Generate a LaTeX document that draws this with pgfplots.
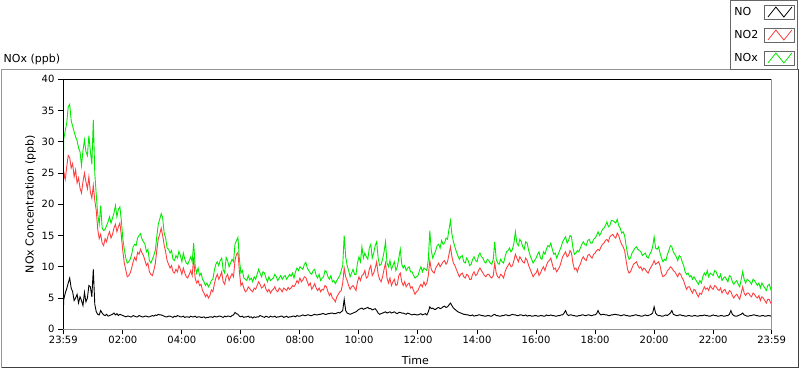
\documentclass[border=0pt]{standalone}
\usepackage{fontspec}
\setmainfont{DejaVu Sans}
\usepackage{pgfplots}
\pgfplotsset{compat=1.18}
\usepackage{pgfplotstable}
\definecolor{noxgreen}{RGB}{0,235,0}
\definecolor{no2red}{RGB}{255,64,64}
\definecolor{framegray}{RGB}{150,150,150}

\pgfplotstableread{
t NO NO2 NOx
-0.0167 3.0 22.8 26.5
0.0 4.8 25.2 30.5
0.05 5.8 24.0 31.8
0.1 6.5 26.0 33.0
0.15 7.4 27.8 35.6
0.2 8.2 27.5 36.0
0.25 6.6 25.8 33.4
0.3 6.0 26.5 32.5
0.35 4.6 24.4 31.6
0.4 5.0 25.5 30.8
0.45 5.6 23.4 30.2
0.5 4.2 24.2 29.0
0.55 5.2 22.6 28.4
0.6 4.6 21.8 26.2
0.65 3.8 23.6 28.6
0.7 5.9 25.0 30.3
0.75 4.4 23.6 28.4
0.8 5.0 22.5 27.8
0.85 7.0 24.4 31.0
0.9 6.8 22.0 28.5
0.95 5.2 21.0 26.4
1.0 9.6 23.0 33.5
1.05 4.0 20.6 25.0
1.1 2.8 19.0 21.5
1.15 2.4 16.0 18.4
1.2 2.3 14.5 16.8
1.25 3.0 15.2 19.8
1.3 2.6 13.8 16.2
1.35 2.3 13.4 15.8
1.4 2.2 14.5 16.0
1.45 2.4 14.0 16.6
1.5 2.1 15.0 17.2
1.55 2.2 15.6 18.0
1.6 2.3 14.6 17.0
1.65 2.4 15.2 17.8
1.7 2.6 16.2 18.6
1.75 2.3 16.8 19.8
1.8 2.5 15.6 18.0
1.85 2.2 16.4 19.2
1.9 2.4 17.0 19.6
1.95 2.3 15.0 17.4
2.0 2.2 12.5 14.5
2.05 2.1 10.6 12.8
2.1 2.0 9.5 11.4
2.15 2.1 8.4 10.6
2.2 2.1 8.6 10.8
2.25 2.0 9.0 11.2
2.3 2.0 9.8 12.0
2.35 2.2 10.8 13.2
2.4 2.1 11.5 13.6
2.45 2.0 11.0 13.4
2.5 2.0 12.3 14.6
2.55 2.2 12.0 15.0
2.6 2.1 12.8 15.3
2.65 2.0 12.2 14.4
2.7 2.0 11.8 14.0
2.75 2.1 11.0 13.6
2.8 2.1 10.2 12.4
2.85 2.0 10.6 12.8
2.9 2.0 9.2 11.0
2.95 2.1 8.8 10.6
3.0 2.2 8.6 11.2
3.05 2.1 9.4 11.8
3.1 2.3 10.5 12.6
3.15 2.2 12.6 14.8
3.2 2.4 14.5 16.8
3.25 2.3 15.2 17.6
3.3 2.3 16.2 18.5
3.35 2.2 15.0 17.8
3.4 2.1 13.5 15.4
3.45 2.0 12.4 14.6
3.5 2.0 11.0 13.0
3.55 2.1 10.4 12.8
3.6 2.1 9.8 12.2
3.65 2.0 10.2 12.6
3.7 1.9 9.2 11.2
3.75 2.1 9.0 11.0
3.8 2.0 9.6 11.8
3.85 2.2 9.2 11.4
3.9 2.1 10.2 12.5
3.95 2.0 9.6 11.8
4.0 2.0 8.8 10.8
4.05 2.1 9.8 12.2
4.1 1.9 9.0 11.2
4.15 2.0 8.4 10.6
4.2 2.0 8.2 10.4
4.25 1.9 8.8 11.0
4.3 2.1 9.4 11.6
4.35 2.0 8.6 10.8
4.4 2.0 11.5 13.8
4.45 2.1 8.2 10.2
4.5 1.9 7.4 9.0
4.55 2.0 7.8 9.8
4.6 2.0 7.0 8.6
4.65 1.9 7.2 9.0
4.7 1.9 6.2 8.0
4.75 2.0 5.8 7.6
4.8 1.8 5.2 7.0
4.85 1.9 5.6 7.4
4.9 1.9 5.0 6.8
4.95 2.0 5.4 7.2
5.0 2.0 6.3 7.8
5.05 1.9 6.0 8.0
5.1 2.1 7.2 9.4
5.15 2.0 8.2 10.4
5.2 2.0 8.8 10.8
5.25 2.1 8.0 10.2
5.3 2.1 8.5 11.0
5.35 2.0 9.2 11.4
5.4 1.9 7.6 9.5
5.45 2.1 7.2 9.0
5.5 2.0 8.4 11.5
5.55 2.1 8.8 11.0
5.6 2.1 7.8 10.0
5.65 2.0 8.4 10.6
5.7 2.2 8.9 11.2
5.75 2.3 8.4 10.8
5.8 2.7 11.0 13.6
5.85 2.5 12.0 14.2
5.9 2.4 12.3 14.7
5.95 2.1 9.2 11.2
6.0 2.0 7.0 9.0
6.05 2.1 7.4 9.4
6.1 1.9 6.6 8.2
6.15 2.0 6.0 8.0
6.2 2.0 6.2 7.8
6.25 2.1 6.8 8.6
6.3 1.9 6.5 7.9
6.35 2.0 6.2 8.2
6.4 1.8 6.0 7.6
6.45 2.0 6.6 8.4
6.5 1.9 6.4 8.0
6.55 2.0 7.0 8.8
6.6 2.0 7.6 9.6
6.65 2.2 7.2 9.0
6.7 2.1 6.6 8.4
6.75 2.0 6.8 9.2
6.8 1.9 7.2 9.0
6.85 2.1 6.4 8.2
6.9 2.0 6.0 7.6
6.95 1.9 6.4 8.4
7.0 2.1 5.8 7.8
7.05 2.0 6.2 8.0
7.1 2.0 6.4 8.2
7.15 2.1 6.8 8.8
7.2 1.9 6.2 8.4
7.25 2.0 6.0 7.8
7.3 2.0 6.6 8.2
7.35 2.1 6.4 8.6
7.4 2.1 6.0 8.0
7.45 1.9 6.6 8.4
7.5 2.0 6.4 8.6
7.55 2.1 6.2 8.0
7.6 1.9 6.7 8.4
7.65 2.0 6.4 8.8
7.7 2.0 6.6 8.5
7.75 2.1 7.0 9.0
7.8 2.1 6.8 8.2
7.85 2.0 7.2 9.2
7.9 2.2 7.8 9.8
7.95 2.1 7.4 9.4
8.0 2.1 8.2 10.0
8.05 2.2 7.6 9.8
8.1 2.3 7.9 9.6
8.15 2.2 8.4 10.4
8.2 2.2 8.3 10.7
8.25 2.3 7.6 9.8
8.3 2.3 7.0 9.4
8.35 2.2 7.4 9.0
8.4 2.2 6.4 8.8
8.45 2.3 6.8 9.4
8.5 2.4 7.3 9.6
8.55 2.3 6.6 8.6
8.6 2.3 6.2 8.2
8.65 2.4 6.6 8.8
8.7 2.4 6.0 7.8
8.75 2.5 6.4 8.2
8.8 2.5 6.3 8.4
8.85 2.4 7.0 9.4
8.9 2.4 6.8 9.2
8.95 2.5 6.0 8.4
9.0 2.5 5.4 8.0
9.05 2.6 5.8 8.6
9.1 2.6 5.0 7.6
9.15 2.5 4.8 7.8
9.2 2.5 4.4 7.3
9.25 2.6 5.2 7.8
9.3 2.7 5.6 8.2
9.35 2.6 6.0 8.6
9.4 2.8 6.2 9.4
9.45 3.0 7.4 10.2
9.5 4.8 9.8 15.0
9.55 3.0 8.4 11.6
9.6 2.6 7.8 10.2
9.65 2.5 7.0 9.4
9.7 2.4 6.4 8.4
9.75 2.5 6.8 9.0
9.8 2.6 7.0 9.6
9.85 2.7 6.6 8.8
9.9 2.8 6.2 8.8
9.95 3.0 7.6 10.6
10.0 3.2 8.4 11.6
10.05 3.3 7.8 10.8
10.1 3.4 8.6 13.2
10.15 3.2 8.8 11.4
10.2 3.3 9.4 12.2
10.25 3.4 8.2 11.6
10.3 3.5 8.4 11.2
10.35 3.3 9.6 13.0
10.4 3.3 10.2 13.6
10.45 3.1 8.6 11.4
10.5 3.2 9.0 12.2
10.55 3.3 9.8 13.4
10.6 3.0 10.8 14.0
10.65 2.6 8.8 11.4
10.7 2.4 8.0 10.2
10.75 2.5 7.6 10.4
10.8 2.6 8.4 11.2
10.85 2.7 9.6 12.4
10.9 2.8 10.6 14.0
10.95 2.6 8.2 10.6
11.0 2.7 7.4 10.0
11.05 2.8 8.2 11.0
11.1 2.6 7.0 9.6
11.15 2.7 7.6 10.2
11.2 2.8 8.0 10.8
11.25 2.6 7.0 9.4
11.3 2.5 7.2 10.0
11.35 2.7 8.6 11.4
11.4 2.7 9.0 12.8
11.45 2.6 7.6 10.4
11.5 2.6 7.0 9.8
11.55 2.5 7.6 10.2
11.6 2.4 6.8 9.4
11.65 2.6 7.2 9.8
11.7 2.5 7.4 10.0
11.75 2.4 6.6 9.2
11.8 2.3 6.8 9.2
11.85 2.4 6.2 8.6
11.9 2.4 5.6 8.2
11.95 2.3 6.0 8.4
12.0 2.3 6.2 8.6
12.05 2.4 6.8 9.4
12.1 2.5 7.2 10.0
12.15 2.3 6.8 9.2
12.2 2.4 7.6 9.8
12.25 2.5 7.0 9.6
12.3 2.3 7.4 9.4
12.35 2.8 8.6 11.2
12.4 3.6 11.0 15.8
12.45 3.3 9.6 12.6
12.5 3.4 9.2 11.4
12.55 3.2 9.0 12.0
12.6 3.2 9.8 12.6
12.65 3.4 10.2 13.4
12.7 3.5 10.6 13.6
12.75 3.3 10.0 13.0
12.8 3.4 10.4 14.2
12.85 3.6 10.8 13.6
12.9 3.7 11.0 13.8
12.95 3.5 10.4 14.6
13.0 3.6 10.8 14.4
13.05 3.9 12.0 16.0
13.1 4.2 13.2 17.4
13.15 3.8 11.6 15.2
13.2 3.4 10.6 14.0
13.25 3.2 10.2 13.2
13.3 3.0 9.6 12.4
13.35 2.8 9.0 11.8
13.4 2.7 8.4 11.2
13.45 2.6 8.8 11.6
13.5 2.5 9.0 11.8
13.55 2.4 8.4 10.8
13.6 2.4 8.2 10.6
13.65 2.3 8.8 11.4
13.7 2.3 8.6 11.0
13.75 2.2 8.0 10.2
13.8 2.2 8.0 10.4
13.85 2.3 8.8 11.2
13.9 2.1 9.2 11.6
13.95 2.2 8.6 11.0
14.0 2.2 8.8 10.8
14.05 2.3 9.4 11.8
14.1 2.3 9.8 12.2
14.15 2.2 9.4 11.6
14.2 2.2 9.0 11.4
14.25 2.1 8.6 10.8
14.3 2.1 8.4 10.6
14.35 2.2 8.8 11.2
14.4 2.2 8.8 11.0
14.45 2.1 8.4 10.6
14.5 2.1 8.2 10.4
14.55 2.3 8.6 11.2
14.6 2.4 10.6 14.0
14.65 2.2 9.0 11.2
14.7 2.2 8.4 10.6
14.75 2.1 8.2 10.4
14.8 2.1 8.8 11.2
14.85 2.2 8.6 10.8
14.9 2.2 8.2 10.6
14.95 2.3 9.2 11.6
15.0 2.3 9.8 12.4
15.05 2.2 10.2 12.6
15.1 2.2 10.6 13.0
15.15 2.3 10.0 12.4
15.2 2.4 10.2 12.8
15.25 2.3 11.0 13.8
15.3 2.3 12.0 15.6
15.35 2.2 11.4 13.8
15.4 2.2 10.8 13.4
15.45 2.3 11.6 14.4
15.5 2.3 11.2 14.0
15.55 2.2 10.8 13.2
15.6 2.2 10.6 12.8
15.65 2.3 11.4 14.0
15.7 2.1 11.0 13.8
15.75 2.2 10.2 12.6
15.8 2.2 9.6 11.8
15.85 2.1 9.0 11.2
15.9 2.1 8.4 10.6
15.95 2.2 8.8 11.0
16.0 2.2 9.0 11.4
16.05 2.1 9.6 12.0
16.1 2.1 8.6 12.4
16.15 2.2 9.0 11.4
16.2 2.2 9.6 11.2
16.25 2.1 10.0 12.4
16.3 2.1 9.4 12.0
16.35 2.3 10.2 12.8
16.4 2.2 10.8 13.4
16.45 2.2 11.0 13.2
16.5 2.3 11.4 13.8
16.55 2.2 10.4 12.8
16.6 2.2 9.6 12.0
16.65 2.1 9.8 12.2
16.7 2.1 9.2 11.4
16.75 2.2 9.6 12.0
16.8 2.2 10.0 12.6
16.85 2.3 10.8 13.2
16.9 2.3 11.6 14.0
16.95 2.6 12.0 14.4
17.0 3.0 12.4 14.8
17.05 2.4 11.6 13.8
17.1 2.2 11.8 14.2
17.15 2.3 12.6 15.0
17.2 2.3 12.2 14.8
17.25 2.2 10.6 13.0
17.3 2.2 9.6 12.0
17.35 2.1 9.8 12.2
17.4 2.1 9.2 12.6
17.45 2.2 10.0 12.4
17.5 2.2 10.4 13.0
17.55 2.3 11.2 13.6
17.6 2.3 11.6 14.0
17.65 2.2 11.2 13.6
17.7 2.2 11.0 13.4
17.75 2.3 11.8 14.2
17.8 2.3 12.0 14.4
17.85 2.2 11.6 13.8
17.9 2.2 11.4 13.8
17.95 2.3 12.0 14.4
18.0 2.3 12.2 14.6
18.05 2.5 12.6 15.0
18.1 3.0 12.8 15.6
18.15 2.5 12.6 15.0
18.2 2.3 13.2 15.4
18.25 2.4 13.6 16.0
18.3 2.4 13.8 16.2
18.35 2.3 14.2 16.6
18.4 2.3 14.4 17.2
18.45 2.2 14.0 16.4
18.5 2.2 14.8 16.6
18.55 2.3 15.0 17.4
18.6 2.3 15.2 17.4
18.65 2.4 14.8 17.2
18.7 2.4 14.6 17.0
18.75 2.3 15.4 17.6
18.8 2.3 15.0 16.6
18.85 2.2 14.2 16.2
18.9 2.2 13.6 15.4
18.95 2.3 13.2 15.6
19.0 2.3 12.6 15.0
19.05 2.2 11.0 13.4
19.1 2.2 9.6 12.0
19.15 2.1 9.0 11.2
19.2 2.1 9.2 11.4
19.25 2.2 9.8 12.2
19.3 2.2 10.4 12.6
19.35 2.3 10.6 13.0
19.4 2.3 10.8 13.2
19.45 2.2 10.2 12.8
19.5 2.2 9.8 12.6
19.55 2.1 10.0 12.4
19.6 2.1 9.4 11.8
19.65 2.2 9.8 12.0
19.7 2.3 9.6 12.2
19.75 2.2 9.2 11.6
19.8 2.2 9.0 11.4
19.85 2.3 9.6 12.0
19.9 2.4 10.0 12.4
19.95 2.6 10.4 13.2
20.0 3.6 11.0 14.8
20.05 2.6 10.4 13.0
20.1 2.3 10.6 12.8
20.15 2.2 10.8 13.2
20.2 2.2 10.2 12.2
20.25 2.1 9.0 11.4
20.3 2.1 8.4 10.8
20.35 2.2 8.6 11.2
20.4 2.3 8.8 11.0
20.45 2.2 9.4 12.0
20.5 2.4 9.6 12.6
20.55 2.6 10.0 13.4
20.6 3.0 9.8 13.2
20.65 2.4 9.4 12.4
20.7 2.3 9.2 12.0
20.75 2.2 8.8 11.6
20.8 2.2 8.4 11.0
20.85 2.3 9.0 11.8
20.9 2.3 8.8 11.6
20.95 2.2 8.2 10.8
21.0 2.2 7.8 10.2
21.05 2.1 7.0 9.2
21.1 2.1 6.4 8.8
21.15 2.2 6.8 9.0
21.2 2.2 6.8 8.4
21.25 2.1 6.2 8.6
21.3 2.1 5.8 8.0
21.35 2.2 6.4 8.4
21.4 2.2 6.2 8.0
21.45 2.1 5.6 7.6
21.5 2.1 5.2 7.2
21.55 2.2 5.8 7.8
21.6 2.2 5.6 7.4
21.65 2.2 6.2 8.4
21.7 2.3 6.8 9.0
21.75 2.2 6.4 8.6
21.8 2.2 6.6 9.4
21.85 2.1 6.2 8.4
21.9 2.1 7.0 9.0
21.95 2.2 6.6 8.8
22.0 2.3 6.4 8.6
22.05 2.2 7.0 9.4
22.1 2.2 6.8 9.2
22.15 2.1 6.4 8.6
22.2 2.1 6.2 8.2
22.25 2.2 6.6 8.8
22.3 2.2 5.8 7.8
22.35 2.1 6.2 8.2
22.4 2.1 6.4 8.4
22.45 2.2 5.8 8.0
22.5 2.2 5.6 7.6
22.55 2.4 6.2 8.6
22.6 3.0 6.0 8.4
22.65 2.4 5.4 7.6
22.7 2.2 5.0 7.2
22.75 2.1 5.4 7.6
22.8 2.1 5.6 7.8
22.85 2.2 5.2 7.2
22.9 2.3 4.8 6.8
22.95 2.4 5.8 8.0
23.0 2.6 6.8 9.2
23.05 2.3 5.8 8.0
23.1 2.2 5.4 7.4
23.15 2.1 5.8 8.0
23.2 2.1 5.8 7.8
23.25 2.2 5.4 7.6
23.3 2.2 5.2 7.2
23.35 2.3 5.8 8.0
23.4 2.3 5.6 7.8
23.45 2.2 5.2 7.4
23.5 2.2 5.0 7.0
23.55 2.1 5.4 7.4
23.6 2.1 4.6 6.6
23.65 2.2 5.2 7.4
23.7 2.2 5.0 7.0
23.75 2.1 4.6 6.6
23.8 2.1 4.2 6.2
23.85 2.2 4.8 7.0
23.9 2.2 4.8 7.2
23.95 2.1 4.2 6.4
23.9833 2.2 4.4 6.8
}\datatable

\begin{document}
\fontsize{11bp}{13bp}\selectfont
\begin{tikzpicture}
\useasboundingbox (0,0) rectangle (800bp,369bp);
\fill[white] (0,0) rectangle (800bp,369bp);
\draw[framegray, line width=1bp] (1.5bp,1.5bp) -- (1.5bp,299.5bp) -- (731bp,299.5bp);
\draw[black!75, line width=1bp] (798bp,299.5bp) -- (798bp,1.5bp) -- (1.5bp,1.5bp);
\node[anchor=west, inner sep=0pt] at (3.5bp,309.5bp) {NOx (ppb)};
\begin{axis}[
  at={(63.3bp,39.7bp)}, anchor=south west,
  width=708.4bp, height=250bp, scale only axis,
  xmin=-0.016667, xmax=23.98333, ymin=0, ymax=40,
  xtick={-0.016667,2,4,6,8,10,12,14,16,18,20,22,23.98333},
  xticklabels={23:59,02:00,04:00,06:00,08:00,10:00,12:00,14:00,16:00,18:00,20:00,22:00,23:59},
  minor x tick num=7,
  ytick={0,5,10,15,20,25,30,35,40},
  tick pos=left, tick align=outside,
  major tick length=5bp, minor tick length=2.5bp,
  every tick/.style={black, line width=1bp},
  axis line style={draw=none},
  /pgf/number format/assume math mode=true,
  tick label style={font=\fontsize{10bp}{12bp}\selectfont, black},
  xticklabel style={yshift=2bp},
  xlabel={Time}, ylabel={NOx Concentration (ppb)},
  label style={font=\fontsize{11bp}{13bp}\selectfont},
  xlabel style={at={(axis description cs:0.497,-0.123)}, anchor=center},
  ylabel style={at={(axis description cs:-0.046,0.5)}, anchor=center},
  clip mode=individual,
  legend plot pos=right,
  legend cell align=left,
  legend style={at={(axis description cs:0.941,1.317)}, anchor=north west,
    draw=black!60, line width=1bp, fill=white, inner xsep=2bp, inner ysep=4bp,
    row sep=8bp, font=\fontsize{11bp}{13bp}\selectfont},
  legend image code/.code={
    \draw[black!60, line width=1bp, solid, fill=white] (0bp,-7bp) rectangle (30bp,7bp);
    \draw[#1, line width=0.8bp] (3bp,-5bp) -- (11bp,5bp) -- (19bp,-5bp) -- (27bp,5bp);
  },
]
\addplot[black, line width=0.9bp] table[x=t, y=NO] {\datatable};
\addlegendentry{\makebox[28bp][l]{NO}}
\addplot[no2red, line width=0.9bp] table[x=t, y=NO2] {\datatable};
\addlegendentry{\makebox[28bp][l]{NO2}}
\addplot[noxgreen, line width=0.9bp] table[x=t, y=NOx] {\datatable};
\addlegendentry{\makebox[28bp][l]{NOx}}
\draw[black, line width=1.5bp] (rel axis cs:0,0) -- (rel axis cs:0,1) -- (rel axis cs:1,1);
\draw[framegray, line width=1bp] (rel axis cs:1,1) -- (rel axis cs:1,0) -- (rel axis cs:0,0);
\end{axis}
\end{tikzpicture}
\end{document}
